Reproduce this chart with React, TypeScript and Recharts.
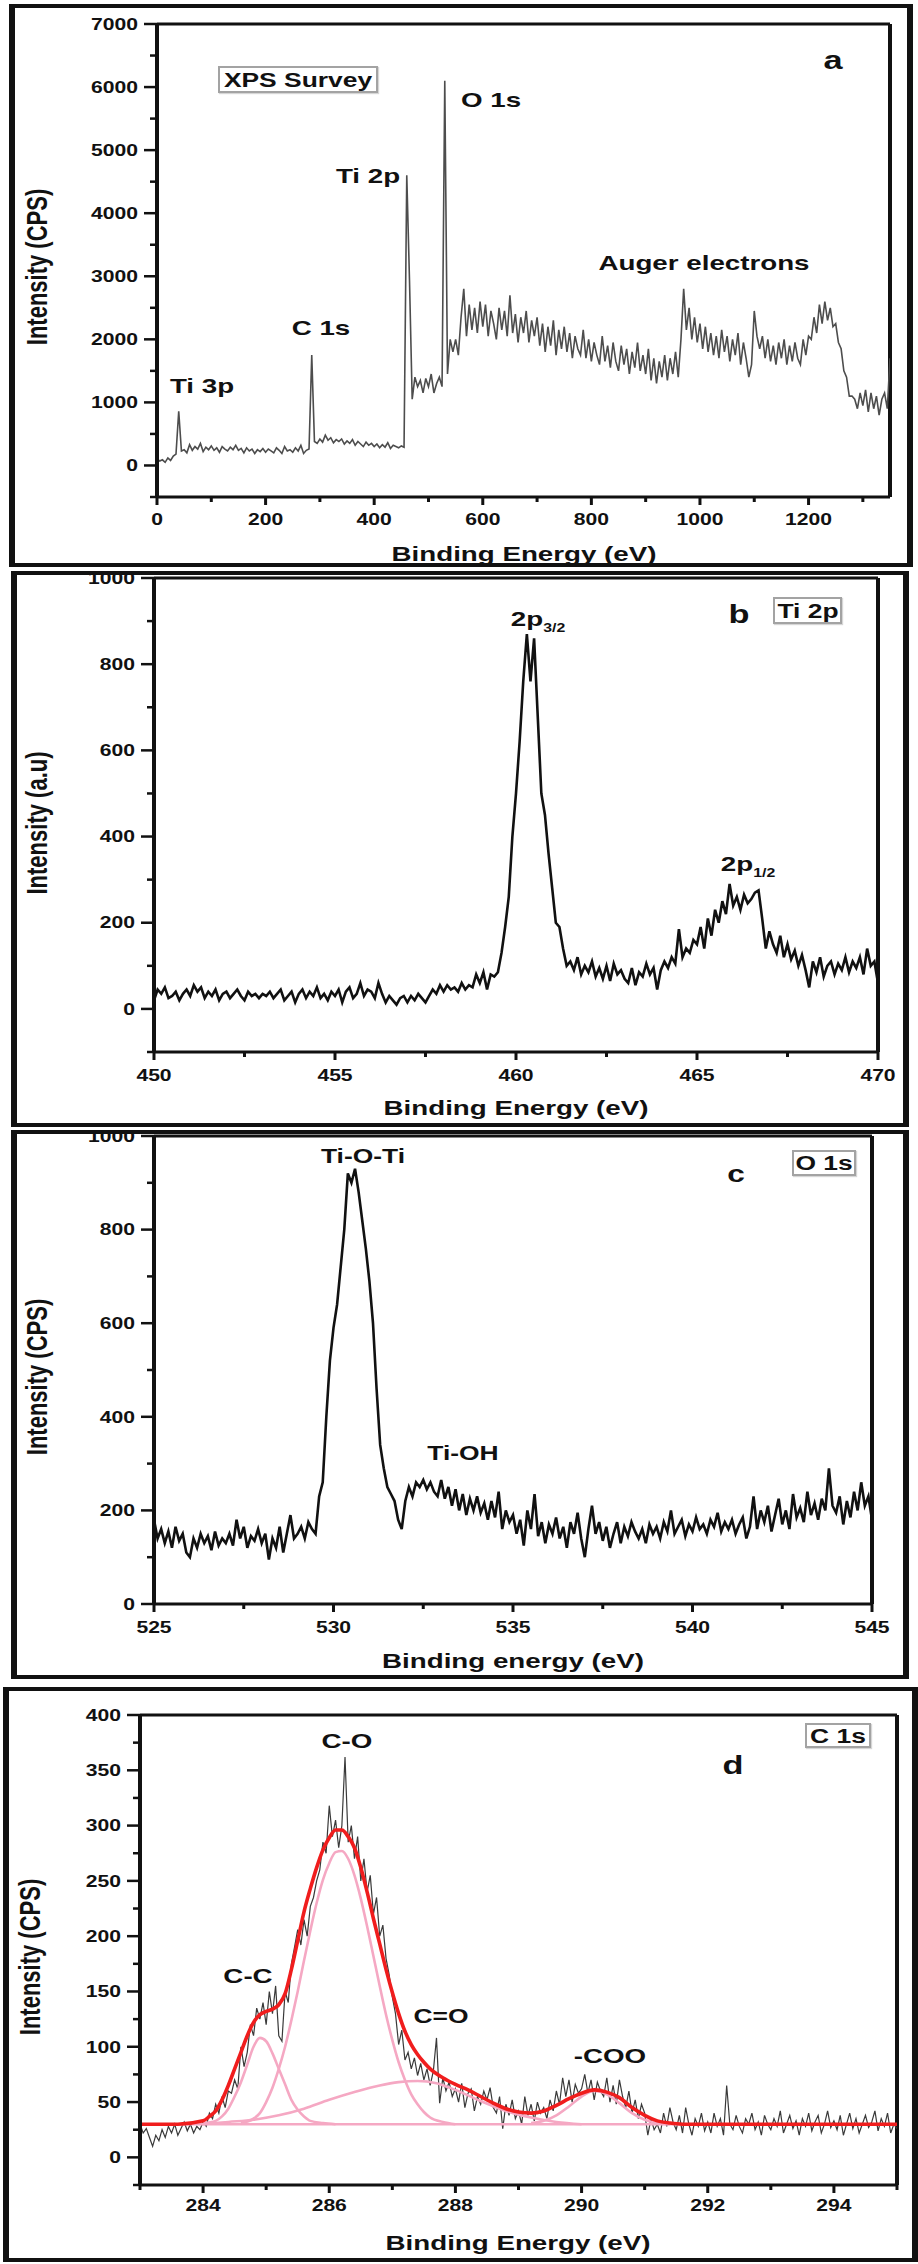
import React from 'react';
import { LineChart, Line, XAxis, YAxis, ReferenceLine } from 'recharts';

// (a) XPS survey, counts every 5 eV from 0 to 1350 eV
const surveyStart = 0;
const surveyStep = 5;
const surveyCounts = [
  110, 70, 90, 50, 120, 80, 150, 180, 860, 230,
  250, 200, 330, 240, 300, 260, 350, 220, 290, 250,
  310, 240, 280, 210, 300, 260, 230, 290, 250, 320,
  240, 270, 200, 280, 230, 260, 190, 250, 220, 270,
  210, 260, 230, 200, 280, 240, 190, 300, 230, 250,
  210, 280, 230, 320, 190, 240, 260, 1750, 380, 350,
  420, 370, 480, 400, 440, 360, 410, 380, 420, 340,
  390, 350, 410, 320, 380, 340, 300, 370, 320, 350,
  300, 340, 280, 330, 290, 360, 270, 320, 300, 280,
  310, 290, 4600, 2950, 1050, 1400, 1250, 1350, 1150, 1380,
  1250, 1450, 1150, 1300, 1400, 1250, 6100, 1450, 2000, 1800,
  2000, 1750, 2350, 2800, 2050, 2550, 2150, 2500, 2100, 2600,
  2200, 2550, 2050, 2450, 2250, 2000, 2500, 2150, 2450, 2050,
  2700, 2100, 2400, 1950, 2350, 2100, 2450, 1950, 2300, 2050,
  2350, 1900, 2250, 1800, 2200, 1900, 2300, 1750, 2150, 1850,
  2200, 1800, 2100, 1700, 2050, 1850, 1750, 2150, 1700, 2000,
  1650, 1950, 1750, 1600, 2050, 1650, 1900, 1550, 1950, 1650,
  1500, 1900, 1600, 1850, 1450, 1800, 1550, 1950, 1500, 1750,
  1450, 1850, 1350, 1700, 1300, 1650, 1400, 1750, 1350, 1700,
  1450, 1800, 1400, 2000, 2800, 2150, 2500, 2000, 2350, 1950,
  2250, 1850, 2200, 1800, 2100, 1750, 2050, 1700, 2150, 1800,
  2050, 1650, 2000, 1750, 2100, 1600, 1950, 1700, 1400, 1600,
  2450, 2050, 1850, 2050, 1700, 2000, 1650, 1900, 1600, 1950,
  1700, 2000, 1600, 1900, 1650, 1950, 1700, 1600, 2000, 1750,
  2050, 2000, 2350, 2100, 2550, 2250, 2600, 2300, 2500, 2200,
  2250, 1950, 1850, 1500, 1400, 1100, 1100, 1050, 900, 1150,
  950, 1200, 850, 1150, 900, 1100, 800, 1050, 1150, 900,
  1700,
];
const surveyXTicks = [0, 100, 200, 300, 400, 500, 600, 700, 800, 900, 1000, 1100, 1200, 1300];
const surveyYTicks = [-500, 0, 500, 1000, 1500, 2000, 2500, 3000, 3500, 4000, 4500, 5000, 5500, 6000, 6500, 7000];

// (b) Ti 2p, every 0.1 eV from 450 to 470 eV
const ti2pStart = 450;
const ti2pStep = 0.1;
const ti2pCounts = [
  20, 45, 35, 50, 25, 30, 40, 20, 35, 45,
  30, 55, 40, 50, 25, 40, 30, 45, 20, 35,
  40, 25, 35, 45, 30, 20, 40, 30, 35, 25,
  35, 30, 40, 25, 35, 45, 20, 30, 40, 15,
  35, 45, 25, 40, 30, 50, 25, 35, 20, 40,
  30, 45, 15, 40, 50, 25, 35, 60, 30, 45,
  40, 25, 60, 35, 15, 30, 20, 10, 25, 30,
  15, 30, 20, 35, 25, 15, 30, 45, 35, 55,
  40, 55, 45, 50, 40, 60, 45, 55, 50, 80,
  60, 85, 45, 80, 75, 85, 130, 190, 260, 400,
  500, 620, 760, 870, 760, 860, 680, 500, 450, 360,
  280, 200, 190, 140, 100, 110, 90, 120, 80, 100,
  85, 110, 75, 95, 70, 100, 65, 105, 80, 90,
  70, 60, 95, 55, 85, 75, 105, 80, 95, 45,
  90, 110, 95, 120, 105, 185, 120, 140, 130, 160,
  150, 190, 140, 210, 170, 230, 200, 250, 220, 290,
  240, 260, 230, 265, 245, 255, 270, 275, 210, 140,
  180, 150, 130, 170, 120, 150, 115, 135, 100, 125,
  90, 50, 110, 85, 120, 75, 100, 110, 80, 105,
  90, 120, 85, 110, 95, 120, 80, 140, 100, 110,
  60,
];
const ti2pXTicks = [450, 452.5, 455, 457.5, 460, 462.5, 465, 467.5, 470];
const ti2pYTicks = [-100, 0, 100, 200, 300, 400, 500, 600, 700, 800, 900, 1000];

// (c) O 1s, every 0.1 eV from 525 to 545 eV
const o1sStart = 525;
const o1sStep = 0.1;
const o1sCounts = [
  180, 140, 160, 130, 155, 120, 165, 135, 150, 110,
  100, 140, 120, 150, 130, 145, 115, 155, 125, 140,
  130, 150, 125, 180, 140, 165, 120, 145, 135, 160,
  130, 150, 95, 140, 120, 165, 110, 150, 190, 140,
  150, 165, 140, 175, 160, 150, 230, 260, 400, 520,
  590, 640, 720, 800, 920, 900, 930, 880, 820, 760,
  690, 600, 460, 340, 290, 250, 235, 220, 180, 160,
  220, 250, 230, 260, 250, 265, 245, 260, 240, 230,
  265, 225, 250, 210, 245, 200, 235, 190, 225, 200,
  230, 195, 215, 180, 220, 185, 240, 160, 200, 175,
  190, 150, 180, 125, 200, 160, 235, 145, 175, 130,
  170, 150, 185, 140, 165, 120, 175, 150, 195, 140,
  100, 160, 210, 150, 175, 135, 165, 120, 150, 175,
  130, 165, 145, 175, 155, 140, 160, 130, 170, 150,
  165, 140, 175, 155, 200, 150, 165, 180, 145, 170,
  155, 185, 160, 170, 150, 180, 165, 195, 155, 175,
  160, 180, 150, 170, 185, 140, 165, 230, 160, 200,
  175, 210, 155, 190, 225, 170, 200, 160, 235, 185,
  205, 175, 240, 190, 215, 180, 225, 200, 290, 210,
  195, 230, 170, 220, 185, 240, 200, 260, 210, 230,
  180,
];
const o1sXTicks = [525, 527.5, 530, 532.5, 535, 537.5, 540, 542.5, 545];
const o1sYTicks = [0, 100, 200, 300, 400, 500, 600, 700, 800, 900, 1000];

// (d) C 1s raw counts, every 0.05 eV from 283 to 295 eV
const c1sStart = 283;
const c1sStep = 0.05;
const c1sCounts = [
  30, 22, 26, 18, 10, 20, 15, 25, 18, 28,
  22, 30, 20, 26, 32, 24, 30, 22, 28, 25,
  32, 28, 40, 35, 48, 40, 55, 45, 60, 58,
  70, 62, 100, 82, 95, 120, 110, 135, 125, 140,
  120, 150, 130, 155, 110, 105, 150, 140, 175, 190,
  206, 192, 215, 200, 227, 235, 250, 260, 285, 275,
  318, 290, 305, 280, 300, 362, 285, 300, 270, 290,
  250, 270, 240, 255, 220, 235, 200, 210, 180, 165,
  145, 130, 102, 115, 88, 95, 80, 90, 74, 85,
  70, 80, 65, 78, 108, 49, 72, 60, 68, 55,
  62, 50, 67, 45, 58, 62, 42, 55, 48, 60,
  52, 63, 45, 40, 55, 26, 48, 38, 52, 35,
  42, 30, 55, 38, 48, 33, 50, 40, 45, 35,
  52, 42, 60, 48, 72, 55, 70, 50, 66, 58,
  62, 75, 58, 70, 52, 68, 60, 55, 72, 50,
  65, 48, 70, 55, 45, 60, 40, 52, 35, 48,
  40, 20, 35, 25, 30, 22, 40, 28, 45, 32,
  25, 38, 22, 45, 30, 20, 35, 28, 40, 24,
  32, 22, 40, 28, 35, 20, 65, 30, 25, 38,
  28, 22, 35, 30, 40, 25, 32, 20, 38, 30,
  25, 35, 28, 42, 22, 30, 38, 26, 33, 20,
  35, 28, 40, 24, 32, 38, 22, 30, 42, 27,
  33, 25, 38, 20, 30, 40, 26, 35, 22, 30,
  38, 27, 32, 42, 24, 35, 28, 40, 22, 30,
  26,
];
// fitted envelope and components, [eV, counts]
const c1sFit: [number, number][] = [
  [283, 30], [283.6, 30], [284.0, 33], [284.1, 37], [284.2, 42], [284.3, 52], [284.4, 65],
  [284.5, 80], [284.6, 95], [284.7, 110], [284.8, 122], [284.9, 129], [285.0, 132], [285.1, 134],
  [285.2, 138], [285.3, 148], [285.4, 170], [285.5, 196], [285.6, 222], [285.7, 243], [285.8, 262],
  [285.9, 278], [286.0, 289], [286.1, 296], [286.2, 296], [286.3, 290], [286.4, 280], [286.5, 262],
  [286.6, 240], [286.7, 216], [286.8, 193], [286.9, 170], [287.0, 149], [287.1, 130], [287.2, 114],
  [287.3, 102], [287.4, 93], [287.5, 86], [287.6, 80], [287.8, 72], [288.0, 66], [288.2, 61],
  [288.4, 55], [288.6, 49], [288.8, 44], [289.0, 41], [289.2, 40], [289.4, 42], [289.6, 47],
  [289.8, 53], [290.0, 58], [290.2, 61], [290.4, 59], [290.6, 54], [290.8, 45], [291.0, 38],
  [291.2, 33], [291.4, 31], [291.6, 30], [292.0, 30], [295, 30],
];
const ccPeak: [number, number][] = [
  [284.0, 31], [284.2, 33], [284.3, 37], [284.4, 44], [284.5, 55], [284.6, 68], [284.7, 84],
  [284.8, 100], [284.9, 108], [285.0, 105], [285.1, 94], [285.2, 80], [285.3, 66], [285.4, 52],
  [285.5, 43], [285.6, 37], [285.7, 33], [285.9, 31], [286.1, 30],
];
const coPeak: [number, number][] = [
  [284.6, 31], [284.8, 35], [284.9, 40], [285.0, 50], [285.1, 63], [285.2, 80], [285.3, 100],
  [285.4, 124], [285.5, 150], [285.6, 178], [285.7, 205], [285.8, 230], [285.9, 251], [286.0, 266],
  [286.1, 276], [286.2, 277], [286.3, 270], [286.4, 255], [286.5, 234], [286.6, 209], [286.7, 182],
  [286.8, 155], [286.9, 129], [287.0, 106], [287.1, 86], [287.2, 70], [287.3, 57], [287.4, 48],
  [287.5, 41], [287.6, 36], [287.8, 32], [288.0, 30],
];
const c2oPeak: [number, number][] = [
  [284.0, 30], [284.4, 32], [284.8, 34], [285.2, 38], [285.6, 44], [286.0, 52], [286.4, 59],
  [286.8, 65], [287.1, 68], [287.4, 69], [287.7, 67], [288.0, 61], [288.4, 51], [288.8, 42],
  [289.2, 36], [289.6, 32], [290.0, 30],
];
const cooPeak: [number, number][] = [
  [289.2, 31], [289.4, 33], [289.6, 38], [289.8, 46], [290.0, 55], [290.2, 60], [290.4, 57],
  [290.6, 49], [290.8, 40], [291.0, 34], [291.2, 31], [291.4, 30],
];
const c1sBaseline: [number, number][] = [[283, 30], [295, 30]];
const c1sXTicks = [283, 284, 285, 286, 287, 288, 289, 290, 291, 292, 293, 294, 295];
const c1sYTicks = [-25, 0, 25, 50, 75, 100, 125, 150, 175, 200, 225, 250, 275, 300, 325, 350, 375, 400];

const INK = '#111';
const FONT = "'Liberation Sans', Arial, Helvetica, sans-serif";
const STRETCH = 1.32;

const gridRows = (start: number, step: number, ys: number[]) =>
  ys.map((y, i) => ({ x: +(start + i * step).toFixed(3), y }));
const pairRows = (pts: [number, number][]) => pts.map(([x, y]) => ({ x, y }));

type Box = { left: number; top: number; right: number; bottom: number };

const XTick = (p: any) => {
  const { x, payload, axisY, major, labelDy } = p;
  const v = payload.value;
  const big = major(v);
  return (
    <g>
      <line x1={x} x2={x} y1={axisY} y2={axisY + (big ? 8 : 5)} stroke={INK} strokeWidth={3} />
      {big && (
        <text
          transform={`translate(${x},${axisY + labelDy}) scale(${STRETCH},1)`}
          textAnchor="middle"
          fontFamily={FONT}
          fontWeight={700}
          fontSize={16}
          fill={INK}
        >
          {v}
        </text>
      )}
    </g>
  );
};

const YTick = (p: any) => {
  const { y, payload, axisX, major } = p;
  const v = payload.value;
  const big = major(v);
  return (
    <g>
      <line x1={axisX} x2={axisX - (big ? 13 : 7)} y1={y} y2={y} stroke={INK} strokeWidth={2.5} />
      {big && (
        <text
          transform={`translate(${axisX - 19},${y}) scale(${STRETCH},1)`}
          textAnchor="end"
          dy="0.36em"
          fontFamily={FONT}
          fontWeight={700}
          fontSize={16}
          fill={INK}
        >
          {v}
        </text>
      )}
    </g>
  );
};

interface SpectrumProps {
  box: Box;
  xDomain: [number, number];
  yDomain: [number, number];
  xTicks: number[];
  yTicks: number[];
  xMajor: (v: number) => boolean;
  yMajor: (v: number) => boolean;
  labelDy: number;
  children: React.ReactNode;
}

const Spectrum = ({ box, xDomain, yDomain, xTicks, yTicks, xMajor, yMajor, labelDy, children }: SpectrumProps) => {
  const width = 918;
  const height = box.bottom - box.top + 50;
  const axisY = height - 40;
  return (
    <div style={{ position: 'absolute', left: 0, top: box.top - 10 }}>
      <LineChart
        width={width}
        height={height}
        margin={{ top: 10, right: width - box.right, bottom: 0, left: box.left - 60 }}
      >
        <XAxis
          type="number"
          dataKey="x"
          domain={xDomain}
          ticks={xTicks}
          interval={0}
          allowDataOverflow
          height={40}
          tickSize={0}
          tickMargin={0}
          tickLine={false}
          axisLine={{ stroke: INK, strokeWidth: 3 }}
          tick={(p: any) => <XTick {...p} axisY={axisY} major={xMajor} labelDy={labelDy} />}
        />
        <YAxis
          type="number"
          domain={yDomain}
          ticks={yTicks}
          interval={0}
          allowDataOverflow
          width={60}
          tickSize={0}
          tickMargin={0}
          tickLine={false}
          axisLine={{ stroke: INK, strokeWidth: 4 }}
          tick={(p: any) => <YTick {...p} axisX={box.left} major={yMajor} />}
        />
        <ReferenceLine y={yDomain[1]} stroke={INK} strokeWidth={3} />
        <ReferenceLine x={xDomain[1]} stroke={INK} strokeWidth={4} />
        {children}
      </LineChart>
    </div>
  );
};

const Frame = ({ left, top, right, bottom }: Box) => (
  <div
    style={{
      position: 'absolute',
      left,
      top,
      width: right - left,
      height: bottom - top,
      boxSizing: 'border-box',
      borderStyle: 'solid',
      borderColor: INK,
      borderWidth: '4px 6px',
    }}
  />
);

const Lbl = ({ x, y, size, children }: { x: number; y: number; size: number; children: React.ReactNode }) => (
  <div
    style={{
      position: 'absolute',
      left: x,
      top: y,
      transform: `translate(-50%, -50%) scale(${STRETCH}, 1)`,
      fontFamily: FONT,
      fontWeight: 700,
      fontSize: size,
      lineHeight: 1,
      whiteSpace: 'nowrap',
      color: INK,
    }}
  >
    {children}
  </div>
);

const VLbl = ({ x, y, size, children }: { x: number; y: number; size: number; children: React.ReactNode }) => (
  <div
    style={{
      position: 'absolute',
      left: x,
      top: y,
      transform: `translate(-50%, -50%) rotate(-90deg) scale(1, ${STRETCH})`,
      fontFamily: FONT,
      fontWeight: 700,
      fontSize: size,
      lineHeight: 1,
      whiteSpace: 'nowrap',
      color: INK,
    }}
  >
    {children}
  </div>
);

const TagBox = ({ left, top, right, bottom, children }: Box & { children: React.ReactNode }) => (
  <div
    style={{
      position: 'absolute',
      left,
      top,
      width: right - left,
      height: bottom - top,
      boxSizing: 'border-box',
      border: '2px solid #a3a3a3',
      boxShadow: '1px 1px 1px #d6d6d6',
      background: '#fff',
    }}
  >
    <Lbl x={(right - left) / 2 - 2} y={(bottom - top) / 2 - 2} size={20}>
      {children}
    </Lbl>
  </div>
);

const Sub = ({ children }: { children: React.ReactNode }) => (
  <span style={{ fontSize: 12, position: 'relative', top: 6 }}>{children}</span>
);

const boxA: Box = { left: 157, top: 24, right: 890, bottom: 497 };
const boxB: Box = { left: 154, top: 578, right: 878, bottom: 1052 };
const boxC: Box = { left: 154, top: 1136, right: 872, bottom: 1604 };
const boxD: Box = { left: 140, top: 1715, right: 897, bottom: 2185 };

export default function App() {
  const survey = gridRows(surveyStart, surveyStep, surveyCounts);
  const ti2p = gridRows(ti2pStart, ti2pStep, ti2pCounts);
  const o1s = gridRows(o1sStart, o1sStep, o1sCounts);
  const c1s = gridRows(c1sStart, c1sStep, c1sCounts);
  const pink = '#f5a8c3';

  return (
    <div style={{ position: 'absolute', left: 0, top: 0, width: 918, height: 2264, background: '#fff', overflow: 'hidden' }}>
      <Frame left={9} top={4} right={913} bottom={567} />
      <Frame left={11} top={571} right={909} bottom={1127} />
      <Frame left={11} top={1130} right={909} bottom={1679} />
      <Frame left={3} top={1687} right={918} bottom={2262} />

      <Spectrum
        box={boxA}
        xDomain={[0, 1350]}
        yDomain={[-500, 7000]}
        xTicks={surveyXTicks}
        yTicks={surveyYTicks}
        xMajor={(v) => v % 200 === 0}
        yMajor={(v) => v % 1000 === 0}
        labelDy={28}
      >
        <Line data={survey} dataKey="y" type="linear" stroke="#4d4d4d" strokeWidth={1.6} dot={false} isAnimationActive={false} />
      </Spectrum>

      <Spectrum
        box={boxB}
        xDomain={[450, 470]}
        yDomain={[-100, 1000]}
        xTicks={ti2pXTicks}
        yTicks={ti2pYTicks}
        xMajor={(v) => v % 5 === 0}
        yMajor={(v) => v % 200 === 0}
        labelDy={29}
      >
        <Line data={ti2p} dataKey="y" type="linear" stroke={INK} strokeWidth={2.6} dot={false} isAnimationActive={false} />
      </Spectrum>

      <Spectrum
        box={boxC}
        xDomain={[525, 545]}
        yDomain={[0, 1000]}
        xTicks={o1sXTicks}
        yTicks={o1sYTicks}
        xMajor={(v) => v % 5 === 0}
        yMajor={(v) => v % 200 === 0}
        labelDy={29}
      >
        <Line data={o1s} dataKey="y" type="linear" stroke={INK} strokeWidth={2.6} dot={false} isAnimationActive={false} />
      </Spectrum>

      <Spectrum
        box={boxD}
        xDomain={[283, 295]}
        yDomain={[-25, 400]}
        xTicks={c1sXTicks}
        yTicks={c1sYTicks}
        xMajor={(v) => v % 2 === 0}
        yMajor={(v) => v % 50 === 0}
        labelDy={26}
      >
        <Line data={c1s} dataKey="y" type="linear" stroke="#3a3a3a" strokeWidth={1.2} dot={false} isAnimationActive={false} />
        <Line data={pairRows(c1sBaseline)} dataKey="y" type="linear" stroke={pink} strokeWidth={2.6} dot={false} isAnimationActive={false} />
        <Line data={pairRows(ccPeak)} dataKey="y" type="monotone" stroke={pink} strokeWidth={2.6} dot={false} isAnimationActive={false} />
        <Line data={pairRows(coPeak)} dataKey="y" type="monotone" stroke={pink} strokeWidth={2.6} dot={false} isAnimationActive={false} />
        <Line data={pairRows(c2oPeak)} dataKey="y" type="monotone" stroke={pink} strokeWidth={2.6} dot={false} isAnimationActive={false} />
        <Line data={pairRows(cooPeak)} dataKey="y" type="monotone" stroke={pink} strokeWidth={2.6} dot={false} isAnimationActive={false} />
        <Line data={pairRows(c1sFit)} dataKey="y" type="monotone" stroke="#f01d1d" strokeWidth={3.6} dot={false} isAnimationActive={false} />
      </Spectrum>

      {/* panel a */}
      <TagBox left={218} top={66} right={378} bottom={93}>XPS Survey</TagBox>
      <Lbl x={833} y={60} size={26}>a</Lbl>
      <Lbl x={491} y={99} size={21}>O 1s</Lbl>
      <Lbl x={368} y={175} size={21}>Ti 2p</Lbl>
      <Lbl x={321} y={327} size={21}>C 1s</Lbl>
      <Lbl x={202} y={385} size={21}>Ti 3p</Lbl>
      <Lbl x={704} y={262} size={21}>Auger electrons</Lbl>
      <Lbl x={524} y={553} size={21}>Binding Energy (eV)</Lbl>
      <VLbl x={38} y={267} size={22}>Intensity (CPS)</VLbl>

      {/* panel b */}
      <Lbl x={538} y={618} size={21}>2p<Sub>3/2</Sub></Lbl>
      <Lbl x={739} y={614} size={26}>b</Lbl>
      <TagBox left={773} top={597} right={842} bottom={624}>Ti 2p</TagBox>
      <Lbl x={748} y={863} size={21}>2p<Sub>1/2</Sub></Lbl>
      <Lbl x={516} y={1107} size={21}>Binding Energy (eV)</Lbl>
      <VLbl x={38} y={823} size={22}>Intensity (a.u)</VLbl>

      {/* panel c */}
      <Lbl x={363} y={1156} size={20}>Ti-O-Ti</Lbl>
      <Lbl x={736} y={1174} size={24}>c</Lbl>
      <TagBox left={792} top={1150} right={856} bottom={1176}>O 1s</TagBox>
      <Lbl x={463} y={1453} size={20}>Ti-OH</Lbl>
      <Lbl x={513} y={1660} size={21}>Binding energy (eV)</Lbl>
      <VLbl x={38} y={1377} size={22}>Intensity (CPS)</VLbl>

      {/* panel d */}
      <Lbl x={347} y={1740} size={21}>C-O</Lbl>
      <Lbl x={733} y={1765} size={26}>d</Lbl>
      <TagBox left={805} top={1723} right={871} bottom={1748}>C 1s</TagBox>
      <Lbl x={248} y={1975} size={21}>C-C</Lbl>
      <Lbl x={441} y={2016} size={20}>C=O</Lbl>
      <Lbl x={610} y={2055} size={21}>-COO</Lbl>
      <Lbl x={518} y={2242} size={21}>Binding Energy (eV)</Lbl>
      <VLbl x={31} y={1957} size={22}>Intensity (CPS)</VLbl>
    </div>
  );
}
